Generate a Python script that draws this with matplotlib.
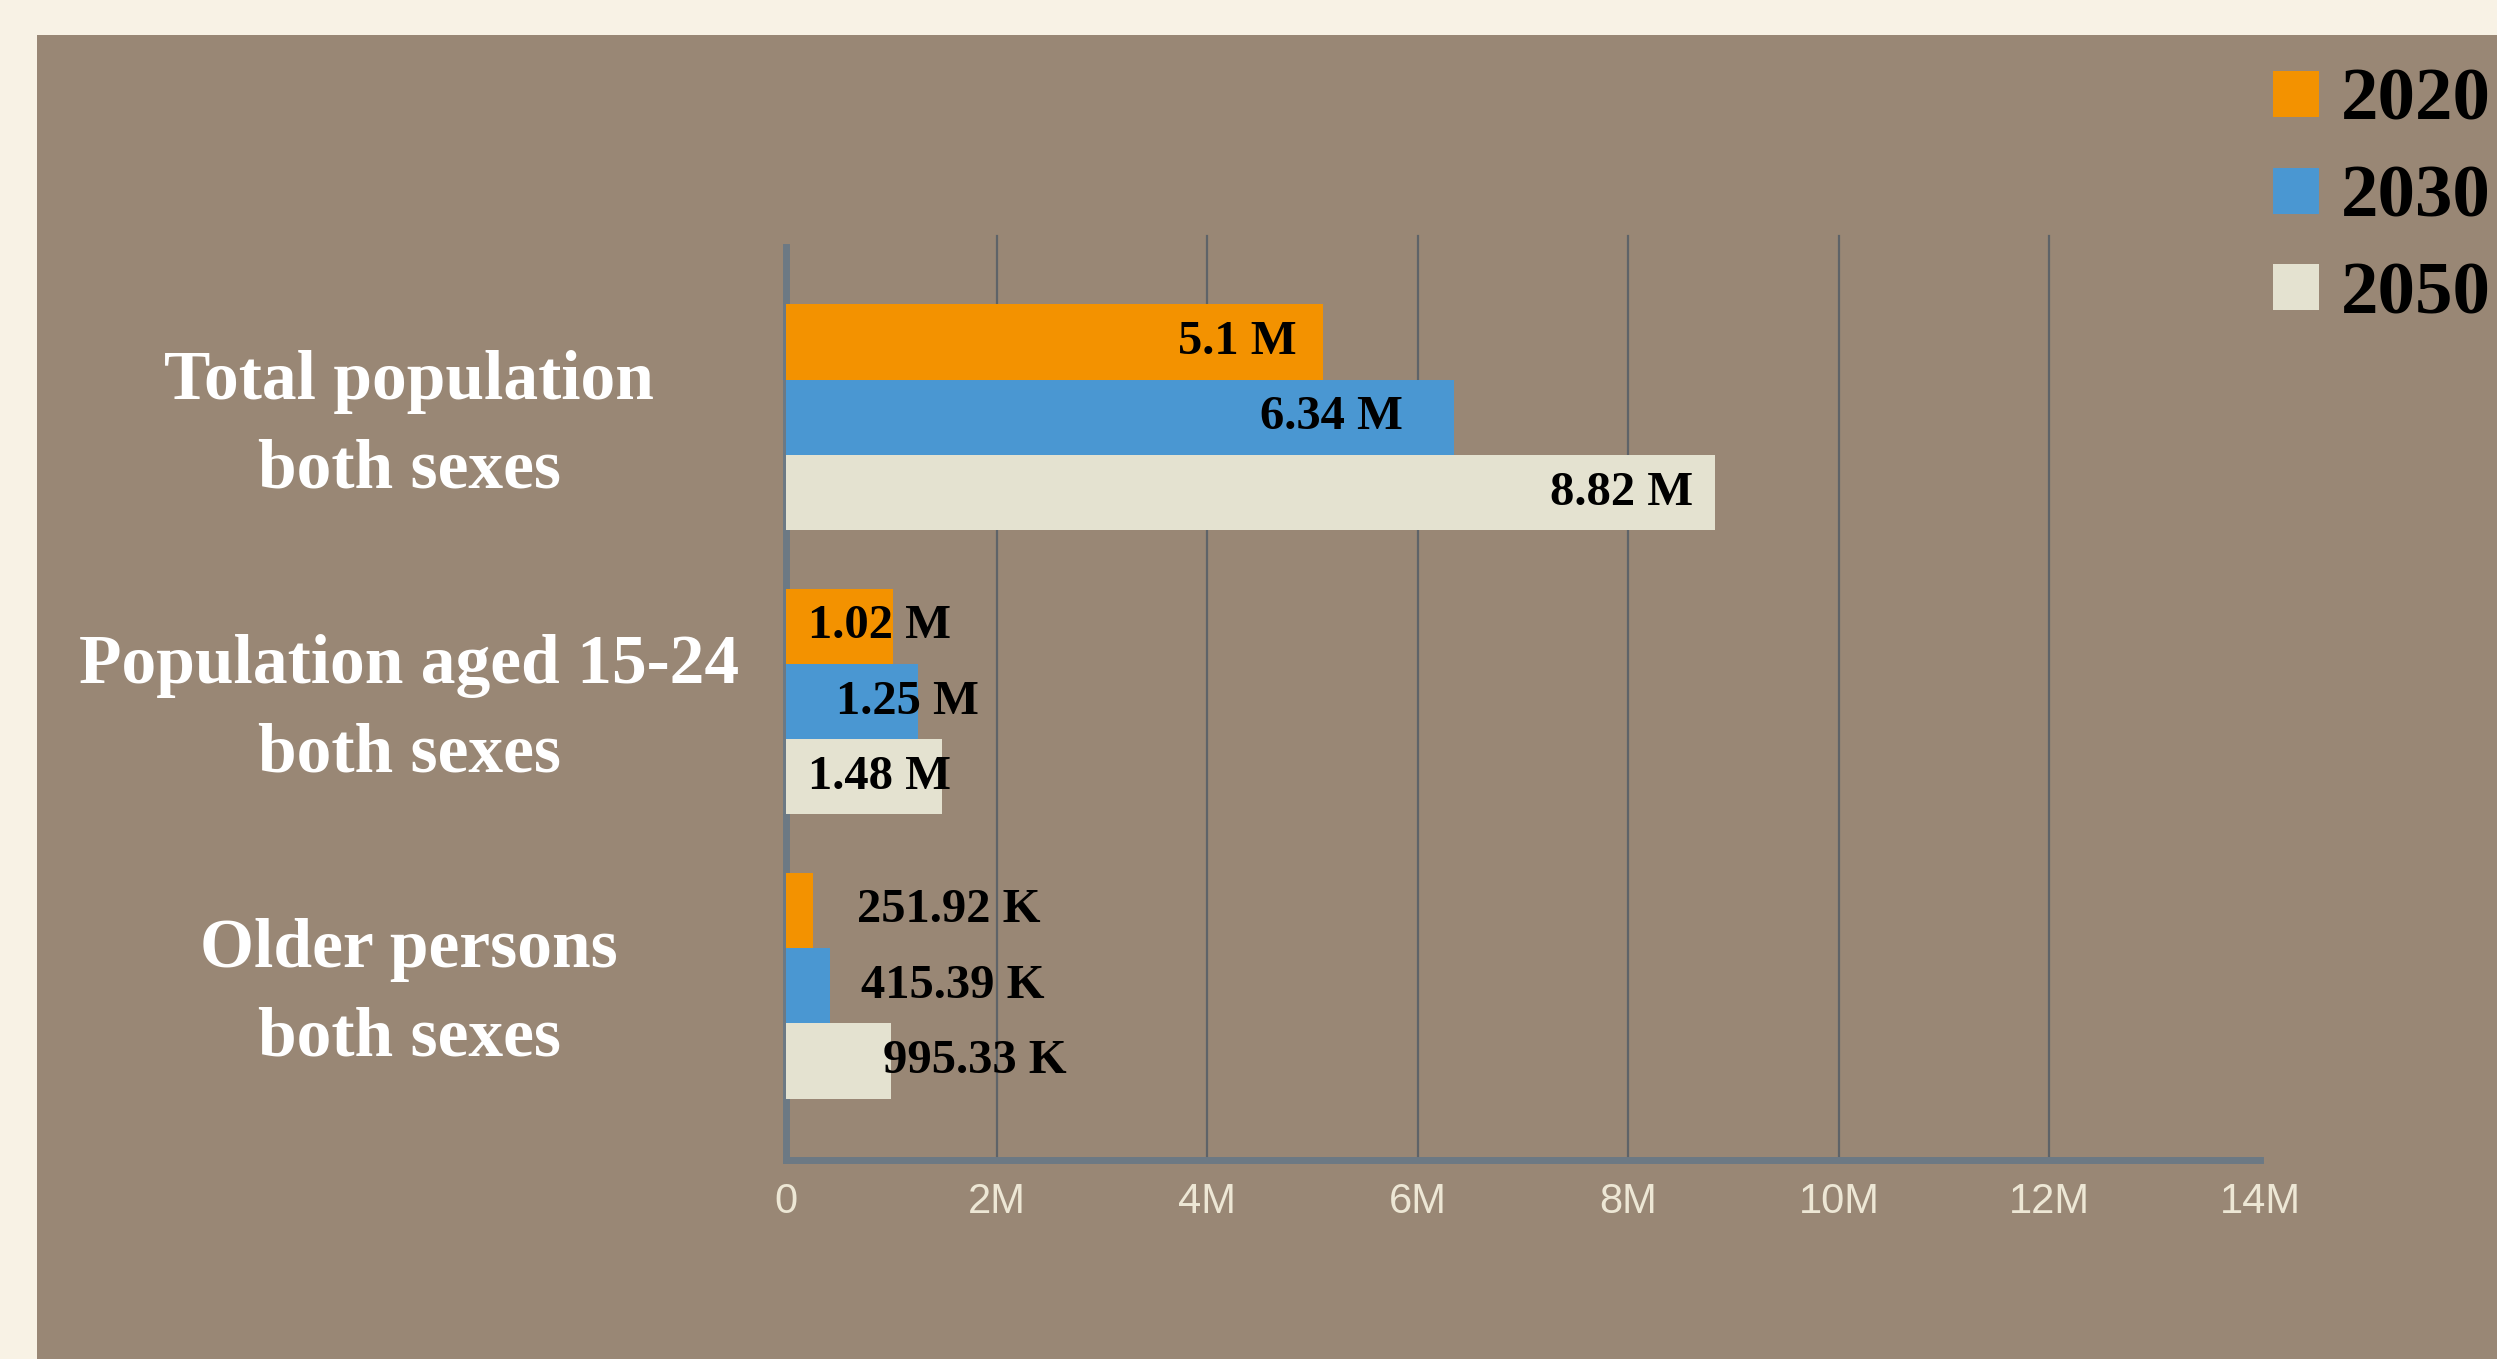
import matplotlib
matplotlib.use("Agg")
import matplotlib.pyplot as plt
import matplotlib.patches as mpatches
import matplotlib.transforms as mtransforms
import numpy as np

# data
categories = ["Total population\nboth sexes",
              "Population aged 15-24\nboth sexes",
              "Older persons\nboth sexes"]
years = ["2020", "2030", "2050"]
values_2020 = [5.10e6, 1.02e6, 251.92e3]
values_2030 = [6.34e6, 1.25e6, 415.39e3]
values_2050 = [8.82e6, 1.48e6, 995.33e3]
value_labels = [["5.1 M", "1.02 M", "251.92 K"],
                ["6.34 M", "1.25 M", "415.39 K"],
                ["8.82 M", "1.48 M", "995.33 K"]]
xticks = [0, 2e6, 4e6, 6e6, 8e6, 10e6, 12e6, 14e6]
xtick_labels = ["0", "2M", "4M", "6M", "8M", "10M", "12M", "14M"]

colors = ["#f39200", "#4a97d2", "#e4e2d0"]
panel_color = "#998775"
axis_color = "#6c7984"
grid_color = "#5e6368"
serif = ["Liberation Serif", "DejaVu Serif"]
sans = ["Liberation Sans", "DejaVu Sans"]

# label placement (offset in pixels from bar end, alignment) per series / group
label_offsets = [[-26, -85, 44], [-51, -82, 31], [-21, -134, -8]]
label_ha = [["right", "left", "left"], ["right", "left", "left"], ["right", "left", "left"]]

W, H = 2497, 1359
fig = plt.figure(figsize=(W / 100, H / 100), dpi=100)
fig.patch.set_facecolor("#f8f2e5")

# brown panel
fig.add_artist(mpatches.Rectangle((37 / W, 0), 1 - 37 / W, 1 - 35 / H,
                                  transform=fig.transFigure, facecolor=panel_color,
                                  edgecolor="none", zorder=0))

ax = fig.add_axes([786 / W, 1 - 1160 / H, (2260 - 786) / W, (1160 - 247) / H])
ax.set_facecolor("none")

all_values = [values_2020, values_2030, values_2050]
y = np.arange(len(categories))
h = 0.265
for i, vals in enumerate(all_values):
    pos = y + (i - 1) * h
    ax.barh(pos, vals, height=h, color=colors[i], zorder=3)
    for j, v in enumerate(vals):
        ax.annotate(value_labels[i][j], (v, pos[j]), xytext=(label_offsets[i][j], 0),
                    textcoords="offset pixels", ha=label_ha[i][j], va="center",
                    fontsize=35, fontweight="bold", family=serif, color="black", zorder=4)

ax.set_xlim(0, 14e6)
ax.set_ylim(2.613, -0.599)
ax.set_xticks(xticks)
ax.set_xticklabels(xtick_labels, family=sans, fontsize=30, color="#ede7d5")
ax.set_yticks([])
ax.tick_params(axis="x", length=0, pad=16)
# gridlines only between the ends (none drawn at 14M in the original)
for xt in xticks[1:-1]:
    ax.axvline(xt, ymin=0, ymax=1.012, color=grid_color, linewidth=1.6, zorder=1,
               clip_on=False)
for side in ["top", "right"]:
    ax.spines[side].set_visible(False)
ax.spines["left"].set_color(axis_color)
ax.spines["left"].set_linewidth(5)
ax.spines["bottom"].set_color(axis_color)
ax.spines["bottom"].set_linewidth(5)
ax.spines["bottom"].set_zorder(2)

# category labels centered in the left margin
trans = mtransforms.blended_transform_factory(fig.transFigure, ax.transData)
for j, cat in enumerate(categories):
    ax.text(409 / W, y[j] + 0.03, cat, transform=trans, ha="center", va="center",
            multialignment="center", fontsize=50, fontweight="bold", family=serif,
            color="white", linespacing=1.5)

# legend at top right
for i, yr in enumerate(years):
    top = 71 + i * 96.5
    fig.add_artist(mpatches.Rectangle((2273 / W, 1 - (top + 46) / H), 46 / W, 46 / H,
                                      transform=fig.transFigure, facecolor=colors[i],
                                      edgecolor="none"))
    fig.text(2341 / W, 1 - (top + 49) / H, yr, ha="left", va="baseline",
             fontsize=54, fontweight="bold", family=serif, color="black")

fig.savefig("out.png", dpi=100, facecolor=fig.get_facecolor())
